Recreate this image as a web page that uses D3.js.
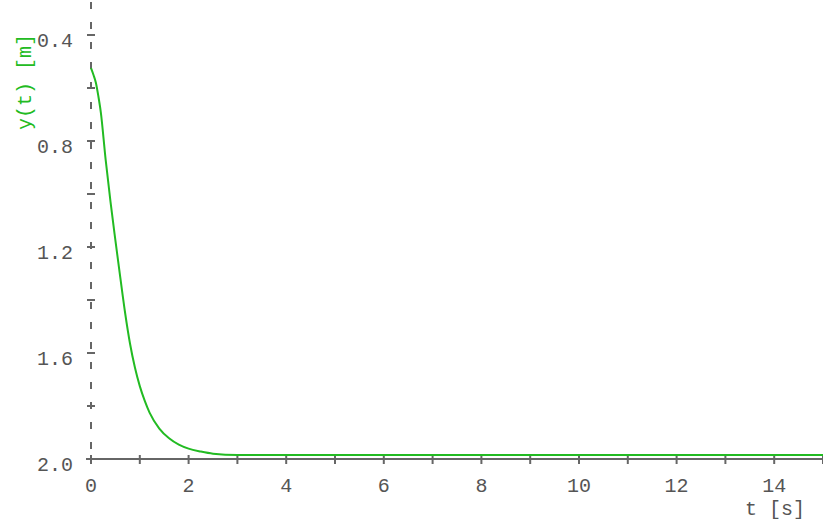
<!DOCTYPE html>
<html>
<head>
<meta charset="utf-8">
<script src="https://cdn.jsdelivr.net/npm/d3@7"></script>
<style>
  body { margin: 0; background: #fff; }
  text { font-family: "Liberation Mono", "DejaVu Sans Mono", monospace; font-size: 20px; fill: #555; }
</style>
</head>
<body>
<svg id="chart" width="823" height="522"></svg>
<script>
// response y(t)
const tValues = [0, 0.05, 0.1, 0.15, 0.2, 0.3, 0.4, 0.5, 0.6, 0.7, 0.8, 0.9, 1.0, 1.1, 1.2, 1.4, 1.6, 1.8, 2.0, 2.25, 2.5, 3.0, 4.0, 15];
const yValues = [0.525, 0.55, 0.58, 0.63, 0.69, 0.87, 1.03, 1.175, 1.315, 1.45, 1.565, 1.655, 1.725, 1.78, 1.825, 1.885, 1.922, 1.946, 1.961, 1.972, 1.98, 1.985, 1.985, 1.985];

const xTicks = d3.range(0, 16, 1);
const xLabels = [0, 2, 4, 6, 8, 10, 12, 14];
const yTicks = [0.4, 0.6, 0.8, 1.0, 1.2, 1.4, 1.6, 1.8];
const yLabels = [0.4, 0.8, 1.2, 1.6, 2.0];

const svg = d3.select('#chart');

const x = d3.scaleLinear().domain([0, 15]).range([91, 823]);
// inverted axis: 0.4 at top, 2.0 at bottom
const y = d3.scaleLinear().domain([0.4, 2.0]).range([35, 459]);

const grey = '#666';
const green = '#22bb22';

// x axis line
svg.append('line')
  .attr('x1', 86).attr('x2', 823)
  .attr('y1', y(2.0)).attr('y2', y(2.0))
  .attr('stroke', grey).attr('stroke-width', 2);

svg.append('g').selectAll('line')
  .data(xTicks)
  .enter().append('line')
  .attr('x1', d => x(d)).attr('x2', d => x(d))
  .attr('y1', y(2.0) - 4).attr('y2', y(2.0) + 5)
  .attr('stroke', grey).attr('stroke-width', 2);

svg.append('g').selectAll('text')
  .data(xLabels)
  .enter().append('text')
  .attr('x', d => x(d))
  .attr('y', 492)
  .attr('text-anchor', 'middle')
  .text(d => d);

svg.append('text')
  .attr('x', 805).attr('y', 515)
  .attr('text-anchor', 'end')
  .text('t [s]');

// y axis, dashed
svg.append('line')
  .attr('x1', x(0)).attr('x2', x(0))
  .attr('y1', 2).attr('y2', y(2.0))
  .attr('stroke', grey).attr('stroke-width', 2)
  .attr('stroke-dasharray', '7,13');

svg.append('g').selectAll('line')
  .data(yTicks)
  .enter().append('line')
  .attr('x1', x(0) - 4).attr('x2', x(0) + 4)
  .attr('y1', d => y(d)).attr('y2', d => y(d))
  .attr('stroke', grey).attr('stroke-width', 2);

svg.append('g').selectAll('text')
  .data(yLabels)
  .enter().append('text')
  .attr('x', 73)
  .attr('y', d => y(d) + 12)
  .attr('text-anchor', 'end')
  .text(d => d.toFixed(1));

svg.append('text')
  .attr('transform', 'translate(31,82) rotate(-90)')
  .attr('text-anchor', 'middle')
  .style('fill', green)
  .text('y(t) [m]');

// response curve
const line = d3.line()
  .x(d => x(d[0]))
  .y(d => y(d[1]))
  .curve(d3.curveMonotoneX);

svg.append('path')
  .datum(d3.zip(tValues, yValues))
  .attr('fill', 'none')
  .attr('stroke', green)
  .attr('stroke-width', 2)
  .attr('d', line);
</script>
</body>
</html>
